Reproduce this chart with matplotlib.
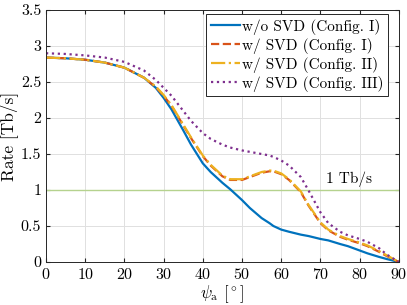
import numpy as np
import matplotlib
matplotlib.use("Agg")
import matplotlib.pyplot as plt

plt.rcParams['font.family'] = 'serif'
plt.rcParams['font.serif'] = ['cmr10']
plt.rcParams['mathtext.fontset'] = 'cm'
plt.rcParams['axes.formatter.use_mathtext'] = True

# angle psi_a in degrees
psi = [0, 5, 10, 15, 20, 25, 28, 30, 32, 35, 37, 40, 42, 45, 47, 50, 52, 55, 57, 58, 60,
       62, 65, 67, 70, 72, 75, 77, 80, 82, 85, 87, 90]

# rate in Tb/s
rate_nosvd_1 = [2.84, 2.83, 2.81, 2.77, 2.70, 2.56, 2.42, 2.28, 2.12, 1.83, 1.63, 1.37, 1.25, 1.10, 1.01,
                0.86, 0.75, 0.61, 0.54, 0.50, 0.45, 0.42, 0.38, 0.36, 0.32, 0.30, 0.25, 0.22, 0.16, 0.12, 0.07, 0.04, 0.0]
rate_svd_1 = [2.84, 2.83, 2.81, 2.77, 2.70, 2.56, 2.43, 2.31, 2.17, 1.90, 1.72, 1.47, 1.34, 1.19, 1.14,
              1.14, 1.18, 1.24, 1.26, 1.26, 1.22, 1.14, 0.97, 0.78, 0.54, 0.44, 0.35, 0.31, 0.26, 0.22, 0.14, 0.08, 0.0]
rate_svd_2 = [2.84, 2.83, 2.81, 2.77, 2.70, 2.56, 2.44, 2.32, 2.18, 1.91, 1.73, 1.48, 1.35, 1.20, 1.15,
              1.15, 1.19, 1.25, 1.27, 1.27, 1.23, 1.15, 0.98, 0.79, 0.55, 0.45, 0.36, 0.32, 0.27, 0.23, 0.15, 0.09, 0.0]
rate_svd_3 = [2.90, 2.89, 2.87, 2.84, 2.78, 2.66, 2.53, 2.42, 2.31, 2.10, 1.96, 1.79, 1.71, 1.63, 1.59,
              1.55, 1.53, 1.50, 1.48, 1.46, 1.41, 1.34, 1.18, 0.99, 0.69, 0.54, 0.42, 0.37, 0.32, 0.28, 0.19, 0.10, 0.0]

threshold = 1.0

fig = plt.figure(figsize=(4.07, 3.05), dpi=100)
ax = fig.add_axes([0.113, 0.141, 0.867, 0.826])

ax.axhline(threshold, color='#b5d28e', lw=1.0, zorder=1)
ax.plot(psi, rate_nosvd_1, '-', color='#0072BD', lw=1.6, label='w/o SVD (Config. I)')
ax.plot(psi, rate_svd_1, '--', color='#D95319', lw=1.6, label='w/ SVD (Config. I)')
ax.plot(psi, rate_svd_2, '-.', color='#EDB120', lw=1.6, label='w/ SVD (Config. II)')
ax.plot(psi, rate_svd_3, ':', color='#7E2F8E', lw=1.6, label='w/ SVD (Config. III)')
ax.text(71.5, 1.04, '1 Tb/s', fontsize=11, va='bottom', ha='left')

ax.set_xlim(0, 90)
ax.set_ylim(0, 3.5)
ax.set_xticks(np.arange(0, 91, 10))
ax.set_yticks(np.arange(0, 3.6, 0.5))
ax.set_yticklabels(['0', '0.5', '1', '1.5', '2', '2.5', '3', '3.5'])
ax.grid(True, color='#e0e0e0', lw=0.7)
ax.set_axisbelow(True)
ax.tick_params(direction='in', labelsize=11.5, top=True, right=True, length=3, color='#262626')
ax.tick_params(axis='x', pad=3.5)
for s in ax.spines.values():
    s.set_color('#262626')
    s.set_linewidth(0.7)

ax.set_xlabel(r'$\psi_\mathrm{a}$ [$^\circ$]', fontsize=12)
ax.xaxis.set_label_coords(0.5, -0.085)
ax.set_ylabel('Rate [Tb/s]', fontsize=12.5, labelpad=2)

leg = ax.legend(loc='upper right', bbox_to_anchor=(0.969, 0.984), fontsize=11,
                handlelength=1.9, handletextpad=0.15, borderpad=0.3, labelspacing=0.2,
                fancybox=False, framealpha=1, edgecolor='#262626', borderaxespad=0)
leg.get_frame().set_linewidth(0.7)

fig.savefig('out.png', dpi=100)
